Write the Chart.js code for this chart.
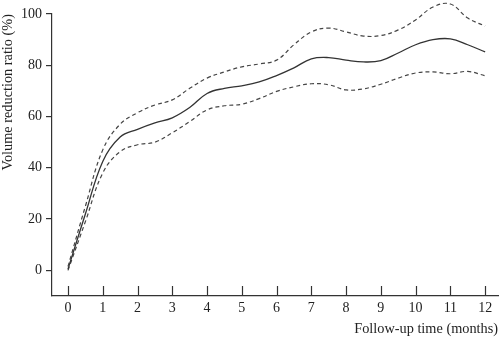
<!DOCTYPE html>
<html>
<head>
<meta charset="utf-8">
<script src="https://cdn.jsdelivr.net/npm/chart.js@4.4.0/dist/chart.umd.min.js"></script>
<style>
  body { margin: 0; background: #fff; }
  canvas { display: block; }
</style>
</head>
<body>
<canvas id="chart" width="500" height="341"></canvas>
<script>
// follow-up months and the smoothed ratio with its confidence band
const months = [0, 0.5, 1, 1.5, 2, 2.5, 3, 3.5, 4, 4.5, 5, 5.5, 6, 6.5, 7, 7.5, 8, 8.5, 9, 9.5, 10, 10.5, 11, 11.5, 12];
const ratio  = [0.5, 22, 42.5, 52, 55, 57.5, 59.5, 63.5, 69, 71, 72, 73.5, 76, 79, 82.5, 83, 82, 81.3, 81.8, 84.8, 88, 90, 90.3, 88, 85.2];
const upper  = [1.5, 25, 47, 57, 61.5, 64.5, 66.5, 71, 75, 77.4, 79.4, 80.5, 82, 88, 93, 94.5, 93, 91.4, 91.6, 93.8, 97.7, 102.7, 103.9, 98.4, 95.3];
const lower  = [0, 19, 38, 46.3, 49, 50, 53.7, 58, 62.6, 64.2, 64.8, 67, 69.8, 71.6, 72.8, 72.4, 70.4, 70.8, 72.6, 75, 77, 77.4, 76.7, 77.6, 75.9];
const xTicks = [0, 1, 2, 3, 4, 5, 6, 7, 8, 9, 10, 11, 12];
const yTicks = [0, 20, 40, 60, 80, 100];

const serif = 'Liberation Serif';
const ink = '#222';

function pts(vals) {
  return months.map((m, i) => ({ x: m, y: vals[i] }));
}

// x axis ticks point up into the plot
const innerTicks = {
  id: 'innerTicks',
  afterDraw(chart) {
    const ctx = chart.ctx;
    const xs = chart.scales.x;
    const b = chart.chartArea.bottom;
    ctx.save();
    ctx.strokeStyle = '#333';
    ctx.lineWidth = 1.2;
    xs.ticks.forEach(t => {
      const px = Math.round(xs.getPixelForValue(t.value)) + 0.5;
      ctx.beginPath();
      ctx.moveTo(px, b);
      ctx.lineTo(px, b - 10);
      ctx.stroke();
    });
    ctx.restore();
  }
};

new Chart(document.getElementById('chart'), {
  type: 'line',
  data: {
    datasets: [
      { data: pts(upper), borderColor: '#444', borderWidth: 1.2, borderDash: [4, 3] },
      { data: pts(ratio), borderColor: '#333', borderWidth: 1.3 },
      { data: pts(lower), borderColor: '#444', borderWidth: 1.2, borderDash: [4, 3] }
    ]
  },
  options: {
    responsive: false,
    animation: false,
    layout: { padding: { top: 14, right: 2, left: 0, bottom: 0 } },
    elements: { point: { radius: 0 }, line: { tension: 0.4 } },
    datasets: { line: { clip: false, fill: false } },
    plugins: { legend: { display: false }, tooltip: { enabled: false } },
    scales: {
      x: {
        type: 'linear',
        min: -0.46,
        max: 12.37,
        afterBuildTicks: s => { s.ticks = xTicks.map(v => ({ value: v })); },
        afterFit: s => { s.height = 45; },
        grid: { display: false, drawTicks: false },
        border: { display: true, color: '#333', width: 1.2 },
        ticks: { color: ink, padding: 4, maxRotation: 0, font: { family: serif, size: 14 } },
        title: {
          display: true, text: 'Follow-up time (months)', align: 'end', color: ink,
          padding: { top: 0, bottom: 3 }, font: { family: serif, size: 14.3 }
        }
      },
      y: {
        min: -10,
        max: 100,
        afterBuildTicks: s => { s.ticks = yTicks.map(v => ({ value: v })); },
        afterFit: s => { s.width = 52; },
        grid: { drawOnChartArea: false, drawTicks: true, tickLength: 6, color: '#333', lineWidth: 1.2 },
        border: { display: true, color: '#333', width: 1.2 },
        ticks: { color: ink, padding: 4, font: { family: serif, size: 14 } },
        title: {
          display: true, text: 'Volume reduction ratio (%)', align: 'end', color: ink,
          padding: 0, font: { family: serif, size: 14.3 }
        }
      }
    }
  },
  plugins: [innerTicks]
});
</script>
</body>
</html>
